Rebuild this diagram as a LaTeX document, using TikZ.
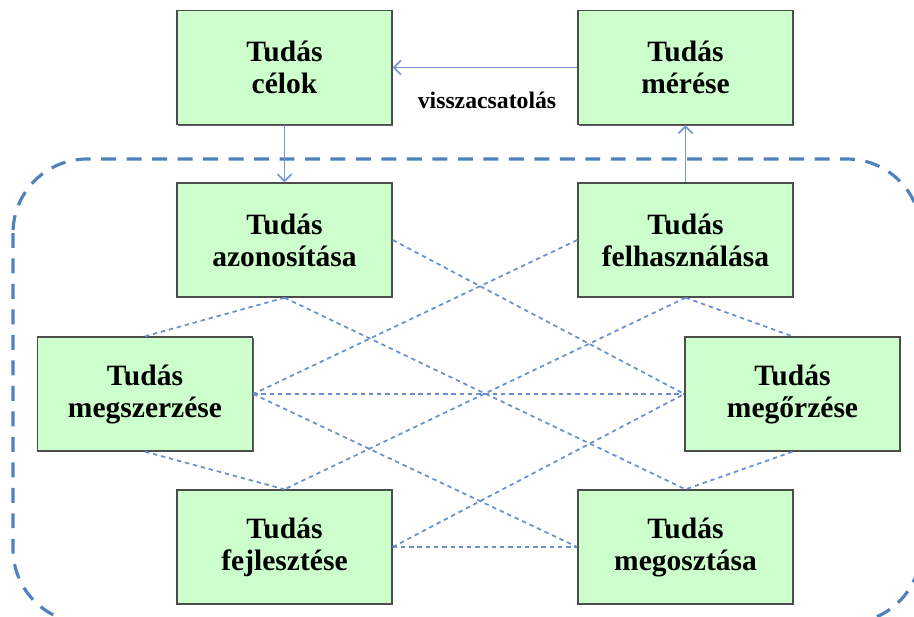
\documentclass[tikz,border=0pt]{standalone}
\usepackage{fontspec}
\setmainfont{Liberation Serif}
\usetikzlibrary{arrows.meta,shadows}

\definecolor{keret}{RGB}{79,129,189}
\definecolor{pont}{RGB}{105,145,205}
\definecolor{nyil}{RGB}{120,152,210}
\definecolor{zold}{RGB}{204,255,204}

\tikzset{
  tudas/.style={rectangle, draw=black!70, line width=0.8pt, fill=zold,
    minimum width=4.3cm, minimum height=2.28cm, align=center,
    drop shadow={shadow xshift=0.7pt, shadow yshift=-0.7pt, opacity=0.8, fill=black!80},
    font=\fontsize{16.8}{18.2}\selectfont\bfseries},
  kapcs/.style={draw=pont, line width=1pt, dash pattern=on 2.5pt off 2.2pt},
  vissza/.style={draw=nyil, line width=1pt, -{Straight Barb[length=4pt,width=8pt]}}
}

\begin{document}
\begin{tikzpicture}
    \useasboundingbox (0,0) rectangle (18.28,-12.32);

    % the dashed frame, cut at the page edge
    \begin{scope}
        \clip (0,0) rectangle (18.28,-12.32);
        \draw[keret, line width=1.8pt, dash pattern=on 8.5pt off 6pt, rounded corners=1.48cm]
            (0.26,-3.18) rectangle (18.42,-12.46);
    \end{scope}

    \node[tudas] (celok) at (5.69,-1.35) {Tudás\\célok};
    \node[tudas] (meres) at (13.71,-1.35) {Tudás\\mérése};
    \node[tudas] (azon) at (5.69,-4.80) {Tudás\\azonosítása};
    \node[tudas] (felh) at (13.71,-4.80) {Tudás\\felhasználása};
    \node[tudas] (megsz) at (2.90,-7.88) {Tudás\\megszerzése};
    \node[tudas] (megorz) at (15.85,-7.88) {Tudás\\megőrzése};
    \node[tudas] (fejl) at (5.69,-10.94) {Tudás\\fejlesztése};
    \node[tudas] (megoszt) at (13.71,-10.94) {Tudás\\megosztása};

    \node[font=\fontsize{13.5}{16}\selectfont\bfseries] (visszacs) at (9.74,-2.0) {visszacsatolás};

    \draw[vissza] (celok) -- (azon);
    \draw[vissza] (felh) -- (meres);
    \draw[vissza] (meres) -- (celok);

    \draw[kapcs] (azon.south) -- (megsz.north);
    \draw[kapcs] (azon.south) -- (megoszt.north);
    \draw[kapcs] (azon.east) -- (megorz.west);
    \draw[kapcs] (felh.west) -- (megsz.east);
    \draw[kapcs] (felh.south) -- (fejl.north);
    \draw[kapcs] (felh.south) -- (megorz.north);
    \draw[kapcs] (megsz.east) -- (megorz.west);
    \draw[kapcs] (megsz.east) -- (megoszt.west);
    \draw[kapcs] (megsz.south) -- (fejl.north);
    \draw[kapcs] (fejl.east) -- (megorz.west);
    \draw[kapcs] (fejl.east) -- (megoszt.west);
    \draw[kapcs] (megorz.south) -- (megoszt.north);
\end{tikzpicture}
\end{document}
